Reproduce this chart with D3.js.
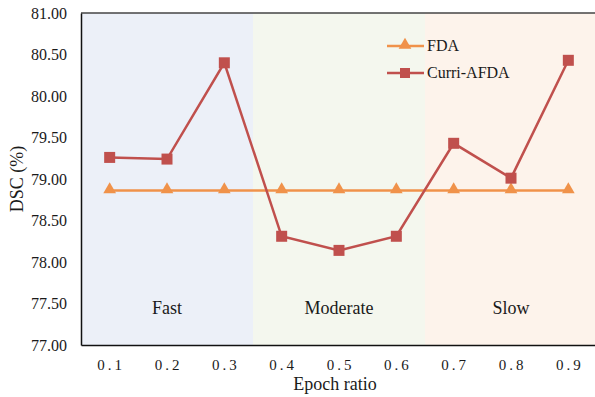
<!DOCTYPE html>
<html><head><meta charset="utf-8">
<script src="https://cdn.jsdelivr.net/npm/d3@7"></script>
<style>body{margin:0;background:#fff}svg{display:block}</style>
</head><body><svg id="c" width="595" height="397"></svg>
<script>
const ratios = ["0.1","0.2","0.3","0.4","0.5","0.6","0.7","0.8","0.9"];
const fda = [78.86,78.86,78.86,78.86,78.86,78.86,78.86,78.86,78.86];
const curri = [79.26,79.24,80.40,78.31,78.14,78.31,79.43,79.01,80.43];
const yTicks = [77,77.5,78,78.5,79,79.5,80,80.5,81];
const regions = [{name:"Fast",from:"0.1",to:"0.3",color:"#ECF0F8"},{name:"Moderate",from:"0.4",to:"0.6",color:"#F4F7EE"},{name:"Slow",from:"0.7",to:"0.9",color:"#FDF3EB"}];

const FONT = "'Liberation Serif', 'Times New Roman', Times, serif";
const svg = d3.select("#c");
const L=81, R=597, T=13, B=345;
const x = d3.scaleBand().domain(ratios).range([L,R]);
const y = d3.scaleLinear().domain([77,81]).range([B,T]);

svg.selectAll("rect.reg").data(regions).enter().append("rect")
  .attr("x",d=>x(d.from)).attr("width",d=>x(d.to)+x.bandwidth()-x(d.from))
  .attr("y",T).attr("height",B-T).attr("fill",d=>d.color);
svg.selectAll("text.reg").data(regions).enter().append("text")
  .attr("x",d=>x(ratios[(ratios.indexOf(d.from)+ratios.indexOf(d.to))/2])+x.bandwidth()/2)
  .attr("y",314).attr("text-anchor","middle").style("font-family",FONT).style("font-size","18px").attr("fill","#1a1a1a").text(d=>d.name);

svg.append("line").attr("x1",L).attr("x2",R).attr("y1",T).attr("y2",T).attr("stroke","#444").attr("stroke-width",1.5);

const yAxis = d3.axisLeft(y).tickValues(yTicks).tickFormat(d3.format(".2f")).tickSize(0).tickPadding(14);
const ga = svg.append("g").attr("transform",`translate(${L},0)`).call(yAxis);
ga.select(".domain").attr("stroke","#111").attr("stroke-width",1.5);
ga.selectAll("text").style("font-size","16px").style("font-family",FONT).attr("fill","#1a1a1a");

const xAxis = d3.axisBottom(x).tickSize(0).tickPadding(14);
const gx = svg.append("g").attr("transform",`translate(0,${B})`).call(xAxis);
gx.select(".domain").attr("stroke","#111").attr("stroke-width",1.5);
gx.selectAll("text").style("font-size","15px").style("font-family",FONT).attr("fill","#1a1a1a").style("letter-spacing","3px").attr("dx","1.5");

svg.append("text").attr("transform","translate(23,179) rotate(-90)").attr("text-anchor","middle").style("font-family",FONT).style("font-size","18px").attr("fill","#1a1a1a").text("DSC (%)");
svg.append("text").attr("x",335).attr("y",390).attr("text-anchor","middle").style("font-family",FONT).style("font-size","18px").attr("fill","#1a1a1a").text("Epoch ratio");

const cx = d=>x(d)+x.bandwidth()/2;
const line = d3.line().x((d,i)=>cx(ratios[i])).y(d=>y(d));
const cF="#F0924A", cC="#C0504D";
svg.append("path").datum(fda).attr("d",line).attr("fill","none").attr("stroke",cF).attr("stroke-width",2.5);
svg.append("path").datum(curri).attr("d",line).attr("fill","none").attr("stroke",cC).attr("stroke-width",2.5);
const tri = d3.symbol().type(d3.symbolTriangle).size(70);
svg.selectAll("path.tf").data(fda).enter().append("path").attr("d",tri)
  .attr("transform",(d,i)=>`translate(${cx(ratios[i])},${y(d)-1})`).attr("fill",cF);
svg.selectAll("rect.sq").data(curri).enter().append("rect")
  .attr("x",(d,i)=>cx(ratios[i])-5.5).attr("y",d=>y(d)-5.5).attr("width",11).attr("height",11).attr("fill",cC);

const lg = svg.append("g");
[["FDA",cF,"tri",46],["Curri-AFDA",cC,"sq",73]].forEach(([n,c,m,ly])=>{
  lg.append("line").attr("x1",387).attr("x2",424).attr("y1",ly).attr("y2",ly).attr("stroke",c).attr("stroke-width",2.5);
  if(m==="tri") lg.append("path").attr("d",tri).attr("transform",`translate(405,${ly-1})`).attr("fill",c);
  else lg.append("rect").attr("x",400).attr("y",ly-5).attr("width",10).attr("height",10).attr("fill",c);
  lg.append("text").attr("x",427).attr("y",ly+5).style("font-family",FONT).style("font-size","16px").attr("fill","#1a1a1a").text(n);
});
</script></body></html>
